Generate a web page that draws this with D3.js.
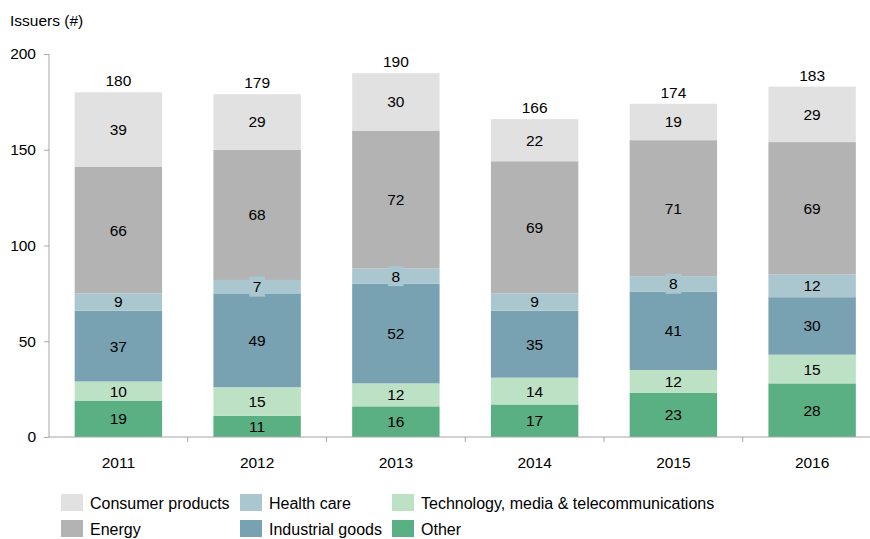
<!DOCTYPE html>
<html><head><meta charset="utf-8">
<script src="https://cdn.jsdelivr.net/npm/d3@7"></script>
<style>
html,body{margin:0;padding:0;background:#fff;}
svg{display:block;font-family:"Liberation Sans",Arial,sans-serif;}
</style></head>
<body><svg id="chart" width="870" height="539"></svg>
<script>
const years = ["2011","2012","2013","2014","2015","2016"];
const seriesNames = ["Other","Technology, media & telecommunications","Industrial goods","Health care","Energy","Consumer products"];
const other = [19,11,16,17,23,28];
const tech = [10,15,12,14,12,15];
const industrial = [37,49,52,35,41,30];
const health = [9,7,8,9,8,12];
const energy = [66,68,72,69,71,69];
const consumer = [39,29,30,22,19,29];
const yTicks = [0,50,100,150,200];
const colors = ["#5aaf83","#bde1c4","#78a2b2","#aac6cf","#b3b3b3","#e1e1e1"];
const legendOrder = ["Consumer products","Energy","Health care","Industrial goods","Technology, media & telecommunications","Other"];

const valuesBySeries = [other,tech,industrial,health,energy,consumer];
const table = years.map((y,i)=>{
  const o={year:y};
  seriesNames.forEach((s,j)=>o[s]=valuesBySeries[j][i]);
  return o;
});
const stack = d3.stack().keys(seriesNames)(table);
const totals = table.map(d=>d3.sum(seriesNames,s=>d[s]));

const FS = 15.5;
const svg = d3.select("#chart");
const x = d3.scaleBand().domain(years).range([49,881.5]).paddingInner(0.37).paddingOuter(0.185);
const y = d3.scaleLinear().domain([0,200]).range([437,54]);
const color = d3.scaleOrdinal().domain(seriesNames).range(colors);
const axisColor = "#a6a6a6";

// bars
const g = svg.append("g");
stack.forEach(layer=>{
  g.selectAll(null).data(layer).enter().append("rect")
    .attr("x",d=>x(d.data.year))
    .attr("width",x.bandwidth())
    .attr("y",d=>y(d[1]))
    .attr("height",d=>y(d[0])-y(d[1]))
    .attr("fill",color(layer.key));
});
// segment labels, with a background box where the band is too thin
stack.forEach(layer=>{
  layer.forEach(d=>{
    const v = d[1]-d[0];
    const cx = x(d.data.year)+x.bandwidth()/2;
    const cy = (y(d[0])+y(d[1]))/2;
    const h = y(d[0])-y(d[1]);
    const t = String(v);
    if (h < 16) {
      const w = t.length*8.6+7;
      g.append("rect").attr("x",cx-w/2).attr("y",cy-10).attr("width",w).attr("height",20).attr("fill",color(layer.key));
    }
    g.append("text").attr("x",cx).attr("y",cy+5.5).attr("text-anchor","middle")
      .attr("font-size",FS).attr("fill","#000").text(t);
  });
});
// totals
g.selectAll(null).data(table).enter().append("text")
  .attr("x",d=>x(d.year)+x.bandwidth()/2)
  .attr("y",(d,i)=>y(totals[i])-6)
  .attr("text-anchor","middle").attr("font-size",FS).attr("fill","#000")
  .text((d,i)=>totals[i]);

// y axis
const yAxis = d3.axisLeft(y).tickValues(yTicks).tickSize(5).tickPadding(8);
const ya = svg.append("g").attr("transform","translate(49,0)").call(yAxis);
ya.select(".domain").attr("stroke",axisColor).attr("d","M0,54V437");
ya.selectAll(".tick line").attr("stroke",axisColor);
ya.selectAll(".tick text").attr("font-size",FS).attr("fill","#000").attr("font-family","Liberation Sans, Arial, sans-serif");

// x axis
const xa = svg.append("g").attr("transform","translate(0,437)");
xa.append("line").attr("x1",49).attr("x2",870).attr("y1",0).attr("y2",0).attr("stroke",axisColor);
const step = x.step();
const bounds = years.slice(1).map(yr=>x(yr)-x.paddingInner()*step/2);
xa.selectAll(null).data(bounds).enter().append("line")
  .attr("x1",d=>d).attr("x2",d=>d).attr("y1",0).attr("y2",5).attr("stroke",axisColor);
xa.selectAll(null).data(years).enter().append("text")
  .attr("x",d=>x(d)+x.bandwidth()/2).attr("y",31)
  .attr("text-anchor","middle").attr("font-size",FS).attr("fill","#000").text(d=>d);

// y title
svg.append("text").attr("x",10).attr("y",26).attr("font-size",FS).attr("fill","#000").text("Issuers (#)");

// legend
const legX = [61,240,392];
const legY = [494,520];
legendOrder.forEach((name,i)=>{
  const col = Math.floor(i/2), row = i%2;
  const lg = svg.append("g").attr("transform",`translate(${legX[col]},${legY[row]})`);
  lg.append("rect").attr("width",22).attr("height",17).attr("fill",color(name));
  lg.append("text").attr("x",29).attr("y",14.5).attr("font-size",16).attr("fill","#000").text(name);
});
</script></body></html>
